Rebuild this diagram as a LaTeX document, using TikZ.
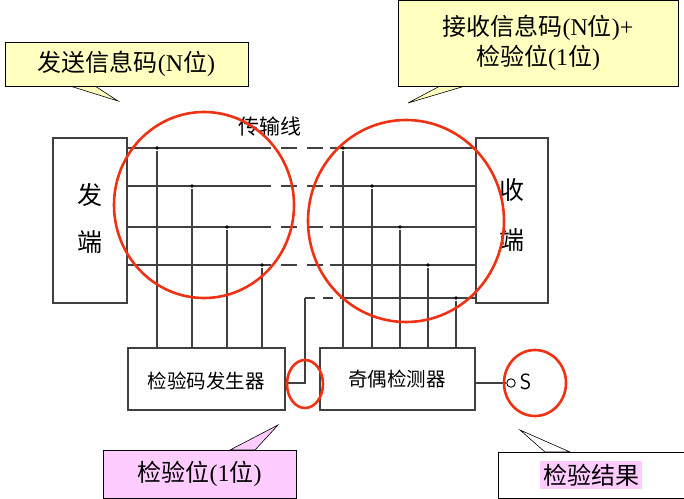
\documentclass[tikz,border=0pt]{standalone}
\usepackage{fontspec}
\setmainfont{Liberation Serif}
\newfontfamily\cjk{Noto Sans CJK SC}
\usetikzlibrary{calc}
\definecolor{callyel}{RGB}{255,255,192}
\definecolor{callpink}{RGB}{255,204,255}
\definecolor{ringred}{RGB}{240,50,20}

\begin{document}
\begin{tikzpicture}[x=1pt,y=-1pt,line width=1.1pt,
  box/.style={draw,black!75,inner sep=0pt},
  dot/.style={circle,fill=black,inner sep=1.4pt},
  ring/.style={draw=ringred,line width=2.6pt},
  callout/.style={draw=black,line width=0.6pt,inner sep=0pt,font=\fontsize{24}{30}\selectfont}]

\useasboundingbox (0,0) rectangle (684,498);

% boxes
\draw[box] (53,138) rectangle (127,303);
\draw[box] (476,138) rectangle (548,303);
\draw[box] (128,348) rectangle (285,410);
\draw[box] (320,348) rectangle (475,410);
\node[font=\cjk\fontsize{25}{27}\selectfont] (fa) at (90,195) {发};
\node[font=\cjk\fontsize{25}{27}\selectfont] (fd) at (90,242) {端};
\node[font=\cjk\fontsize{25}{27}\selectfont] (sh) at (512,190) {收};
\node[font=\cjk\fontsize{25}{27}\selectfont] (sd) at (512,240) {端};
\node[font=\cjk\fontsize{19.5}{21}\selectfont] (gen) at (206,381) {检验码发生器};
\node[font=\cjk\fontsize{19.5}{21}\selectfont] (chk) at (397,379) {奇偶检测器};
\node[font=\cjk\fontsize{21}{23}\selectfont] (line) at (270,126) {传输线};

% lines
\foreach \y/\xl/\xr [count=\i] in {148/157/343, 186/192/372, 227/227/400, 265/262/428}{
  \draw[black!75] (127,\y) -- (255,\y);
  \draw[black!75,dash pattern=on 16pt off 10pt] (255,\y) -- (330,\y);
  \draw[black!75] (330,\y) -- (476,\y);
  \node[dot] (l\i) at (\xl,\y) {};
  \node[dot] (r\i) at (\xr,\y) {};
  \draw[black!75] (l\i) -- (\xl,348);
  \draw[black!75] (r\i) -- (\xr,348);
}
\draw[black!75] (285,383) -- (305,383) -- (305,298);
\draw[black!75,dash pattern=on 10pt off 8pt] (305,298) -- (340,298);
\draw[black!75] (340,298) -- (476,298);
\node[dot] (r5) at (456,298) {};
\draw[black!75] (r5) -- (456,348);
\node[draw,circle,inner sep=3pt,line width=0.9pt] (s) at (511,383) {};
\draw[black!75] (475,383) -- (s);
\node[font=\fontsize{22}{24}\selectfont\sffamily,anchor=west] (slab) at (516,382) {S};

% red rings
\draw[ring] (204,205) ellipse (90 and 93);
\draw[ring] (406,221) ellipse (98 and 101);
\draw[ring] (305,384) ellipse (18 and 24);
\draw[ring] (535,383) ellipse (31 and 33);

% callouts
\draw[fill=callyel,line width=0.6pt] (70,86) -- (118,101) -- (95,86) -- cycle;
\node[callout,fill=callyel,minimum width=243pt,minimum height=44pt] (c1) at (126.5,64)
  {\cjk 发送信息码\rmfamily(N\cjk 位\rmfamily)};
\draw[fill=callyel,line width=0.6pt] (440,86) -- (408,103) -- (465,86) -- cycle;
\node[callout,fill=callyel,minimum width=280pt,minimum height=86pt,align=center] (c2) at (538,43)
  {\cjk 接收信息码\rmfamily(N\cjk 位\rmfamily)+\\\cjk 检验位\rmfamily(1\cjk 位\rmfamily)};
\draw[fill=callpink,line width=0.6pt] (230,450) -- (278,425) -- (255,450) -- cycle;
\node[callout,fill=callpink,minimum width=193pt,minimum height=48pt] (c3) at (199.5,474)
  {\cjk 检验位\rmfamily(1\cjk 位\rmfamily)};
\draw[fill=white,line width=0.6pt] (545,452) -- (520,430) -- (570,452) -- cycle;
\node[callout,fill=white,minimum width=186pt,minimum height=46pt] (c4) at (591,475) {};
\node[fill=callpink,inner sep=3pt,font=\cjk\fontsize{24}{30}\selectfont] (c4t) at (591,475) {检验结果};
\end{tikzpicture}
\end{document}
